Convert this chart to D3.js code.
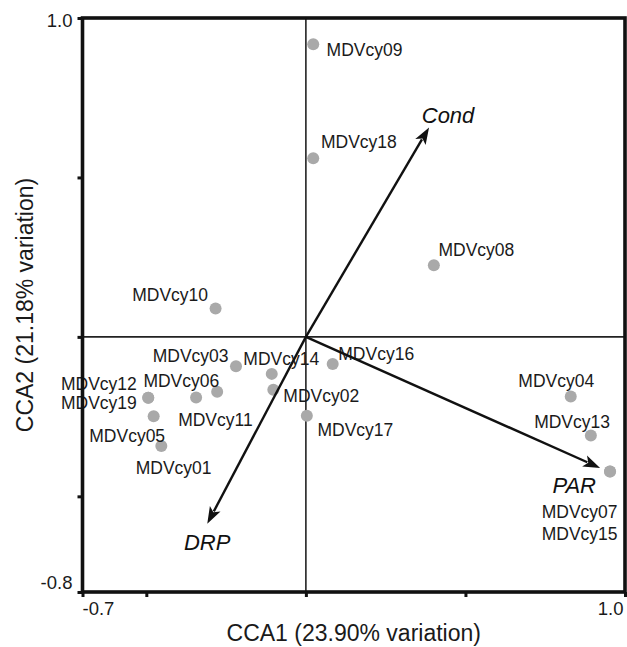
<!DOCTYPE html>
<html>
<head>
<meta charset="utf-8">
<script src="https://cdn.jsdelivr.net/npm/d3@7"></script>
<style>
  html, body { margin: 0; padding: 0; background: #fff; }
  svg { display: block; font-family: "Liberation Sans", Arial, Helvetica, sans-serif; }
</style>
</head>
<body>
<svg id="chart" width="627" height="647"></svg>
<script>
// ---- data ----
const sites = ["MDVcy01","MDVcy02","MDVcy03","MDVcy04","MDVcy05","MDVcy06","MDVcy07","MDVcy08","MDVcy09","MDVcy10",
               "MDVcy11","MDVcy12","MDVcy13","MDVcy14","MDVcy15","MDVcy16","MDVcy17","MDVcy18","MDVcy19"];
const cca1 = [-0.453,-0.102,-0.219, 0.830,-0.477,-0.344, 0.953, 0.401, 0.023,-0.283,
              -0.278,-0.494, 0.893,-0.107, 0.953, 0.084, 0.003, 0.023,-0.494];
const cca2 = [-0.342,-0.166,-0.092,-0.187,-0.249,-0.190,-0.422, 0.225, 0.918, 0.089,
              -0.172,-0.191,-0.309,-0.116,-0.422,-0.085,-0.247, 0.560,-0.191];
const envVars = ["Cond","PAR","DRP"];
const envCCA1 = [0.386, 0.922, -0.309];
const envCCA2 = [0.657, -0.411, -0.586];
const xTicks = [-0.7, -0.5, 0, 0.5, 1.0];
const yTicks = [-0.8, -0.5, 0, 0.5, 1.0];
const xTickLabels = ["-0.7", "1.0"];
const yTickLabels = ["1.0", "-0.8"];
const xTitle = "CCA1 (23.90% variation)";
const yTitle = "CCA2 (21.18% variation)";

// ---- layout (label nudges in px, not data) ----
const siteLabelNudge = {
  MDVcy01:[-25.6,27.7], MDVcy02:[10,12], MDVcy03:[-83.3,-4], MDVcy04:[-52.4,-10], MDVcy05:[-64.4,26],
  MDVcy06:[-52.7,-10], MDVcy07:[-68.3,46.6], MDVcy08:[4.6,-9], MDVcy09:[13.4,12], MDVcy10:[-83.4,-7.3],
  MDVcy11:[-39,34], MDVcy12:[-87.3,-8], MDVcy13:[-56.7,-7.4], MDVcy14:[-28.4,-8.6], MDVcy15:[-68.3,68.3],
  MDVcy16:[5.6,-3.6], MDVcy17:[10.6,20.7], MDVcy18:[7.7,-10.7], MDVcy19:[-87.3,11.3]
};
const envLabelNudge = { Cond:[-7.3,-4.3], PAR:[-47.7,25], DRP:[-23.3,26] };

const svg = d3.select("#chart");
const x = d3.scaleLinear().domain([-0.7, 1.0]).range([82.5, 625]);
const y = d3.scaleLinear().domain([-0.8, 1.0]).range([592, 18]);

// zero lines
svg.append("line").attr("x1", x(0)).attr("x2", x(0)).attr("y1", y(1.0)).attr("y2", y(-0.8))
  .attr("stroke", "#222").attr("stroke-width", 1.6);
svg.append("line").attr("x1", x(-0.7)).attr("x2", x(1.0)).attr("y1", y(0)).attr("y2", y(0))
  .attr("stroke", "#222").attr("stroke-width", 1.6);

// points
const pts = sites.map((s, i) => ({ name: s, a: cca1[i], b: cca2[i] }));
svg.append("g").selectAll("circle").data(pts).join("circle")
  .attr("cx", d => x(d.a)).attr("cy", d => y(d.b)).attr("r", 6)
  .attr("fill", "#a9a9a9");

// site labels
svg.append("g").selectAll("text").data(pts).join("text")
  .attr("x", d => x(d.a) + siteLabelNudge[d.name][0])
  .attr("y", d => y(d.b) + siteLabelNudge[d.name][1])
  .attr("font-size", 17.5).attr("fill", "#1a1a1a")
  .text(d => d.name);

// environmental arrows
const env = envVars.map((v, i) => ({ name: v, a: envCCA1[i], b: envCCA2[i] }));
const headLen = 17, headHalf = 6;
const ag = svg.append("g");
env.forEach(d => {
  const x0 = x(0), y0 = y(0), x1 = x(d.a), y1 = y(d.b);
  const L = Math.hypot(x1 - x0, y1 - y0);
  const ux = (x1 - x0) / L, uy = (y1 - y0) / L;
  const bx = x1 - ux * headLen, by = y1 - uy * headLen;
  ag.append("line").attr("x1", x0).attr("y1", y0)
    .attr("x2", x1 - ux * (headLen - 3)).attr("y2", y1 - uy * (headLen - 3))
    .attr("stroke", "#111").attr("stroke-width", 2.4);
  ag.append("path")
    .attr("d", `M${x1},${y1}L${bx - uy * headHalf},${by + ux * headHalf}L${bx + ux * 4},${by + uy * 4}L${bx + uy * headHalf},${by - ux * headHalf}Z`)
    .attr("fill", "#111");
  ag.append("text")
    .attr("x", x1 + envLabelNudge[d.name][0]).attr("y", y1 + envLabelNudge[d.name][1])
    .attr("font-size", 22).attr("font-style", "italic").attr("fill", "#111")
    .text(d.name);
});

// axes tick marks
svg.append("g").attr("transform", `translate(0,${y(-0.8)})`)
  .call(d3.axisBottom(x).tickValues(xTicks).tickSize(5).tickSizeOuter(0).tickFormat(""))
  .call(g => g.select(".domain").remove())
  .call(g => g.selectAll(".tick line").attr("stroke", "#111").attr("stroke-width", 3));
svg.append("g").attr("transform", `translate(${x(-0.7)},0)`)
  .call(d3.axisLeft(y).tickValues(yTicks).tickSize(5).tickSizeOuter(0).tickFormat(""))
  .call(g => g.select(".domain").remove())
  .call(g => g.selectAll(".tick line").attr("stroke", "#111").attr("stroke-width", 3));

// frame
svg.append("rect").attr("x", x(-0.7)).attr("y", y(1.0))
  .attr("width", x(1.0) - x(-0.7)).attr("height", y(-0.8) - y(1.0))
  .attr("fill", "none").attr("stroke", "#111").attr("stroke-width", 3.6);

// tick labels
svg.append("text").attr("x", x(-0.7)).attr("y", y(-0.8) + 23).attr("font-size", 18.5)
  .attr("text-anchor", "start").attr("fill", "#1a1a1a").text(xTickLabels[0]);
svg.append("text").attr("x", x(1.0) - 1.5).attr("y", y(-0.8) + 23).attr("font-size", 18.5)
  .attr("text-anchor", "end").attr("fill", "#1a1a1a").text(xTickLabels[1]);
svg.append("text").attr("x", x(-0.7) - 10).attr("y", y(1.0) + 9).attr("font-size", 18.5)
  .attr("text-anchor", "end").attr("fill", "#1a1a1a").text(yTickLabels[0]);
svg.append("text").attr("x", x(-0.7) - 10).attr("y", y(-0.8) - 3.5).attr("font-size", 18.5)
  .attr("text-anchor", "end").attr("fill", "#1a1a1a").text(yTickLabels[1]);

// axis titles
svg.append("text").attr("x", (x(-0.7) + x(1.0)) / 2).attr("y", 641)
  .attr("text-anchor", "middle").attr("font-size", 23).attr("fill", "#1a1a1a").text(xTitle);
svg.append("text").attr("transform", `translate(33,${(y(1.0) + y(-0.8)) / 2}) rotate(-90)`)
  .attr("text-anchor", "middle").attr("font-size", 23).attr("fill", "#1a1a1a").text(yTitle);
</script>
</body>
</html>
